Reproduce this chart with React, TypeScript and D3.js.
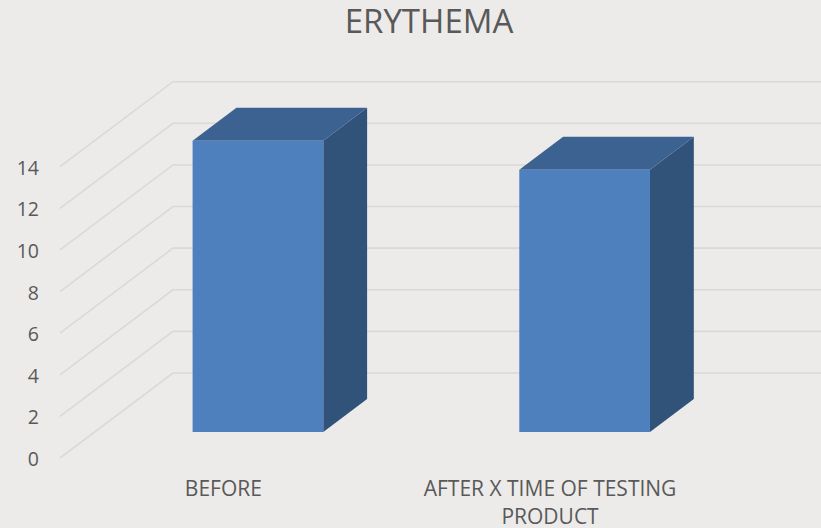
import React from "react";
import * as d3 from "d3";

const title = "ERYTHEMA";
const categories = ["BEFORE", "AFTER X TIME OF TESTING PRODUCT"];
const categoryLines = [["BEFORE"], ["AFTER X TIME OF TESTING", "PRODUCT"]];
const values = [14, 12.6];
const yTicks = [0, 2, 4, 6, 8, 10, 12, 14];

const W = 821;
const H = 528;
const FONT = "'Open Sans', sans-serif";
const TEXT = "#595959";
const BG = "#ECEBE9";
const GRID = "#D9D9D7";
const FRONT = "#4E80BD";
const TOP = "#3C6291";
const SIDE = "#315279";

// Oblique projection of the plot box: floor front-left corner and depth vector.
const floorY = 458;
const depthX = 113;
const depthY = 85;
const barDepthStart = 0.306;
const barDepthEnd = 0.694;

const x = d3.scaleBand<string>().domain(categories).range([60, 713.4]).paddingInner(0.6).paddingOuter(0.3);
const y = d3.scaleLinear().domain([0, 14]).range([floorY, 166.7]);

const project = (px: number, py: number, depth: number): [number, number] => [px + depth * depthX, py - depth * depthY];
const poly = (pts: [number, number][]) => d3.line()(pts) + "Z";

export default function App() {
  return (
    <svg width={W} height={H} style={{ position: "fixed", left: 0, top: 0, display: "block", background: BG }}>
      <rect width={W} height={H} fill={BG} />
      <text x={429} y={33} textAnchor="middle" fontFamily={FONT} fontSize={33} fill={TEXT}>{title}</text>

      {yTicks.map((t) => {
        const a = project(60, y(t), 0);
        const b = project(60, y(t), 1);
        return (
          <g key={t}>
            <path d={d3.line()([a, b, [W + 5, b[1]]]) as string} fill="none" stroke={GRID} strokeWidth={1.6} />
            <text x={39} y={y(t) + 8} textAnchor="end" fontFamily={FONT} fontSize={19.5} fill={TEXT}>{t}</text>
          </g>
        );
      })}

      {categories.map((c, i) => {
        const x0 = x(c) as number;
        const x1 = x0 + x.bandwidth();
        const y0 = y(0);
        const y1 = y(values[i]);
        const s = barDepthStart;
        const e = barDepthEnd;
        return (
          <g key={c}>
            <path d={poly([project(x1, y0, s), project(x1, y0, e), project(x1, y1, e), project(x1, y1, s)])} fill={SIDE} />
            <path d={poly([project(x0, y1, s), project(x1, y1, s), project(x1, y1, e), project(x0, y1, e)])} fill={TOP} />
            <path d={poly([project(x0, y0, s), project(x1, y0, s), project(x1, y1, s), project(x0, y1, s)])} fill={FRONT} />
            {categoryLines[i].map((line, j) => (
              <text key={line} x={x0 + x.bandwidth() / 2} y={496 + j * 28.3} textAnchor="middle" fontFamily={FONT} fontSize={21} fill={TEXT}>{line}</text>
            ))}
          </g>
        );
      })}
    </svg>
  );
}
